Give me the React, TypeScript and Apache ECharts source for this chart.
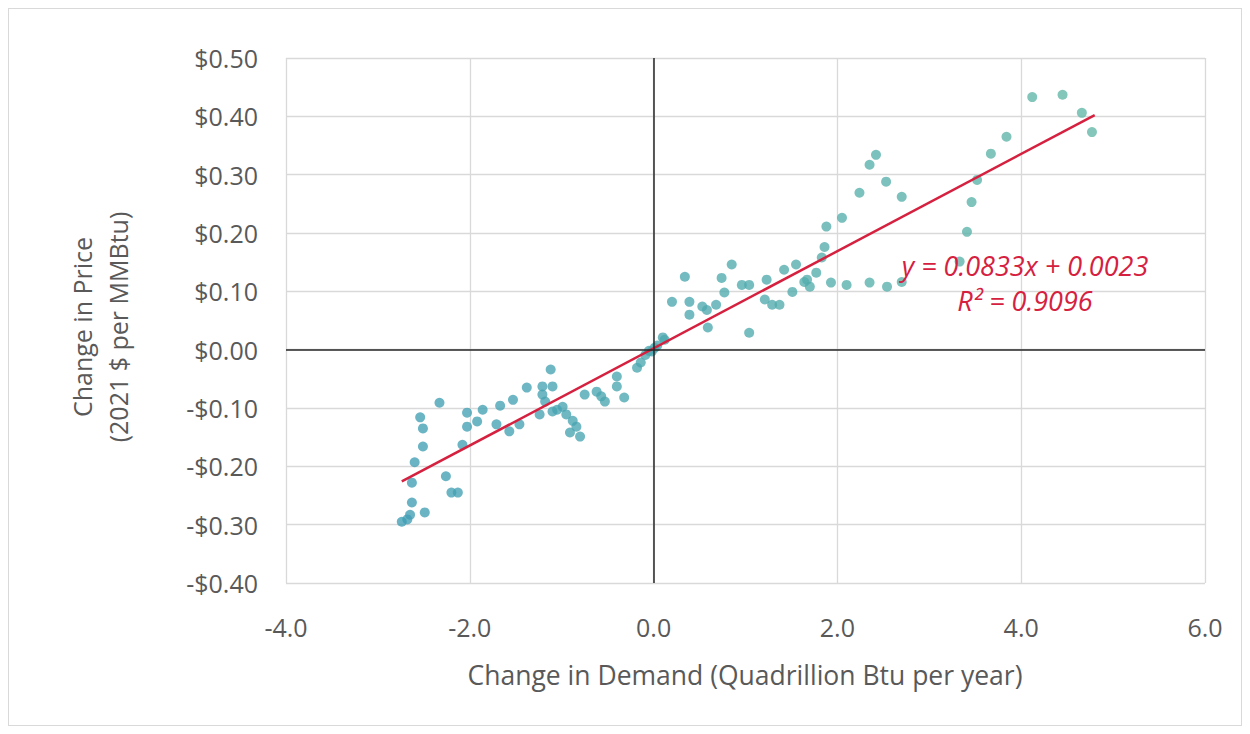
import React, { useEffect, useRef } from "react";
import * as echarts from "echarts";

// Change in demand (Quadrillion Btu per year)
const demandChange: number[] = [
  -2.74, -2.68, -2.65, -2.63, -2.49, -2.63, -2.6, -2.51, -2.51, -2.54,
  -2.33, -2.26, -2.2, -2.13, -2.08, -2.03, -2.03, -1.92, -1.86, -1.71,
  -1.67, -1.57, -1.53, -1.46, -1.38, -1.21, -1.1, -1.12, -1.21, -1.18,
  -1.24, -1.05, -0.99, -0.95, -0.88, -0.84, -0.91, -0.8, -1.1, -0.75,
  -0.62, -0.57, -0.53, -0.4, -0.4, -0.32, -0.18, -0.14, -0.09, -0.05,
  -0.02, 0.01, 0.04, 0.1, 0.12, 0.2, 0.34, 0.39, 0.39, 0.59,
  0.53, 0.58, 0.68, 0.77, 0.74, 0.85, 0.96, 1.04, 1.04, 1.23,
  1.21, 1.29, 1.37, 1.42, 1.51, 1.55, 1.64, 1.7, 1.67, 1.77,
  1.83, 1.86, 1.88, 1.93, 2.05, 2.1, 2.24, 2.35, 2.35, 2.42,
  2.53, 2.54, 2.7, 2.7, 3.33, 3.41, 3.46, 3.52, 3.67, 3.84,
  4.12, 4.45, 4.66, 4.77,
];

// Change in price (2021 $ per MMBtu)
const priceChange: number[] = [
  -0.295, -0.291, -0.283, -0.262, -0.279, -0.228, -0.193, -0.166, -0.135, -0.116,
  -0.091, -0.217, -0.245, -0.245, -0.163, -0.132, -0.108, -0.123, -0.103, -0.128,
  -0.096, -0.14, -0.086, -0.128, -0.065, -0.063, -0.063, -0.034, -0.077, -0.089,
  -0.111, -0.103, -0.098, -0.111, -0.122, -0.132, -0.142, -0.149, -0.106, -0.077,
  -0.072, -0.08, -0.089, -0.063, -0.046, -0.082, -0.031, -0.022, -0.009, -0.002,
  -0.003, 0.003, 0.007, 0.021, 0.017, 0.082, 0.125, 0.082, 0.06, 0.038,
  0.074, 0.068, 0.077, 0.098, 0.123, 0.146, 0.111, 0.111, 0.029, 0.12,
  0.086, 0.077, 0.077, 0.137, 0.099, 0.146, 0.116, 0.108, 0.12, 0.132,
  0.158, 0.176, 0.211, 0.115, 0.226, 0.111, 0.269, 0.115, 0.317, 0.334,
  0.288, 0.108, 0.262, 0.116, 0.151, 0.202, 0.253, 0.291, 0.336, 0.365,
  0.433, 0.437, 0.406, 0.373,
];

// Linear trendline as printed on the chart
const trendSlope = 0.0833;
const trendIntercept = 0.0023;
const trendRSquared = "0.9096";
const trendX: number[] = [-2.74, 4.8];

const xTicks = { min: -4, max: 6, interval: 2 };
const yTicks = { min: -0.4, max: 0.5, interval: 0.1 };

const FONT = "'Open Sans', Lato, sans-serif";
const GRAY = "#595959";
const RED = "#d5213f";

export default function App() {
  const ref = useRef<HTMLDivElement>(null);

  useEffect(() => {
    if (!ref.current) return;
    const chart = echarts.init(ref.current, undefined, { renderer: "svg" });
    const points = demandChange.map((x, i) => [x, priceChange[i]]);
    const trend = trendX.map((x) => [x, trendSlope * x + trendIntercept]);

    chart.setOption({
      animation: false,
      backgroundColor: "#ffffff",
      textStyle: { fontFamily: FONT },
      grid: { left: 277, top: 49, right: 36, bottom: 142 },
      visualMap: {
        show: false,
        type: "continuous",
        dimension: 0,
        seriesIndex: 0,
        min: -3,
        max: 5,
        inRange: { color: ["#3e9db5", "#62b8a6"] },
      },
      xAxis: {
        type: "value",
        min: xTicks.min,
        max: xTicks.max,
        interval: xTicks.interval,
        axisLine: { show: false },
        axisTick: { show: false },
        splitLine: { show: true, lineStyle: { color: "#d9d9d9", width: 1.3 } },
        axisLabel: {
          color: GRAY,
          fontSize: 25,
          fontFamily: FONT,
          margin: 31,
          formatter: (v: number) => v.toFixed(1),
        },
      },
      yAxis: {
        type: "value",
        min: yTicks.min,
        max: yTicks.max,
        interval: yTicks.interval,
        axisLine: { show: false },
        axisTick: { show: false },
        splitLine: { show: true, lineStyle: { color: "#d9d9d9", width: 1.3 } },
        axisLabel: {
          color: GRAY,
          fontSize: 25,
          fontFamily: FONT,
          margin: 28,
          formatter: (v: number) => {
            const r = Math.round(v * 100) / 100;
            return (r < 0 ? "-$" : "$") + Math.abs(r).toFixed(2);
          },
        },
      },
      graphic: [
        {
          type: "text",
          x: 1016,
          y: 256,
          style: {
            text: `y = ${trendSlope}x + ${trendIntercept}`,
            font: `italic 27px ${FONT}`,
            fill: RED,
            textAlign: "center",
            textVerticalAlign: "middle",
          },
          z: 100,
        },
        {
          type: "text",
          x: 1016,
          y: 291,
          style: {
            text: `R² = ${trendRSquared}`,
            font: `italic 27px ${FONT}`,
            fill: RED,
            textAlign: "center",
            textVerticalAlign: "middle",
          },
          z: 100,
        },
        {
          type: "text",
          x: 91,
          y: 318,
          rotation: Math.PI / 2,
          style: {
            text: "Change in Price\n(2021 $ per MMBtu)",
            font: `25px ${FONT}`,
            fill: GRAY,
            textAlign: "center",
            textVerticalAlign: "middle",
            lineHeight: 36,
          },
        },
        {
          type: "text",
          x: 736,
          y: 666,
          style: {
            text: "Change in Demand (Quadrillion Btu per year)",
            font: `26.5px ${FONT}`,
            fill: GRAY,
            textAlign: "center",
            textVerticalAlign: "middle",
          },
        },
      ],
      series: [
        {
          type: "scatter",
          data: points,
          symbolSize: 10,
          itemStyle: { opacity: 0.78 },
          z: 3,
          markLine: {
            silent: true,
            symbol: "none",
            label: { show: false },
            lineStyle: { color: "#262626", width: 1.5, type: "solid" },
            data: [{ xAxis: 0 }, { yAxis: 0 }],
          },
        },
        {
          type: "line",
          data: trend,
          showSymbol: false,
          symbol: "none",
          lineStyle: { color: RED, width: 2.5 },
          z: 4,
        },
      ],
    });

    return () => chart.dispose();
  }, []);

  return (
    <div
      ref={ref}
      style={{
        width: 1232,
        height: 716,
        border: "1px solid #d9d9d9",
      }}
    />
  );
}
